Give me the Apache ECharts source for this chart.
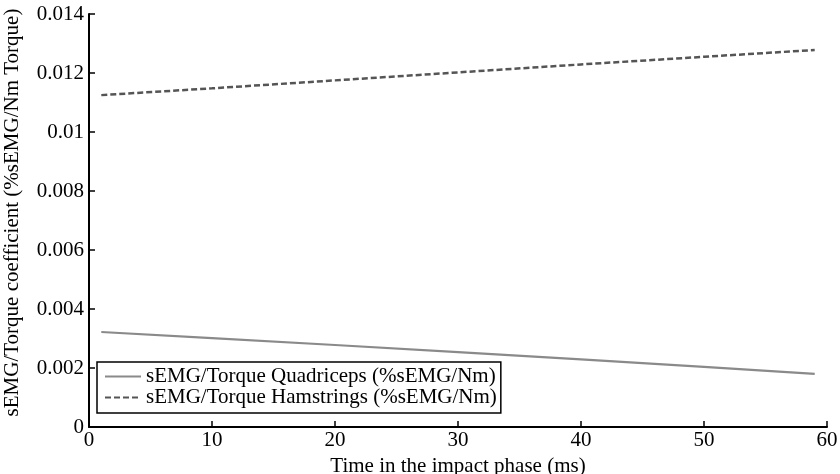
<!DOCTYPE html>
<html>
<head>
<meta charset="utf-8">
<title>sEMG/Torque coefficient</title>
<script src="https://cdn.jsdelivr.net/npm/echarts@6/dist/echarts.min.js"></script>
<style>
  html, body { margin: 0; padding: 0; background: #fff; }
  #chart { width: 840px; height: 474px; }
</style>
</head>
<body>
<div id="chart"></div>
<script>
// Time samples within the impact phase (ms)
const timeMs = [1, 10, 20, 30, 40, 50, 59];
// sEMG/Torque coefficients (%sEMG/Nm)
const quadriceps = [0.00322, 0.00301, 0.00278, 0.00254, 0.00229, 0.00204, 0.00180];
const hamstrings = [0.01125, 0.01148, 0.01175, 0.01202, 0.01229, 0.01255, 0.01278];
// Axis ticks
const xTicks = [0, 10, 20, 30, 40, 50, 60];
const yTicks = [0, 0.002, 0.004, 0.006, 0.008, 0.01, 0.012, 0.014];
const seriesNames = ['sEMG/Torque Quadriceps (%sEMG/Nm)', 'sEMG/Torque Hamstrings (%sEMG/Nm)'];

const font = 'Liberation Serif';
const fs = 21;
const pair = (xs, ys) => xs.map((x, i) => [x, ys[i]]);

const axisCommon = {
  axisLine: { lineStyle: { color: '#000', width: 2 } },
  axisTick: { inside: true, length: 6, lineStyle: { color: '#000', width: 1.5 } },
  splitLine: { show: false },
  axisLabel: { color: '#000', fontFamily: font, fontSize: fs },
  nameTextStyle: { color: '#000', fontFamily: font, fontSize: fs }
};

const chart = echarts.init(document.getElementById('chart'), null, { renderer: 'canvas' });
chart.setOption({
  backgroundColor: '#fff',
  animation: false,
  grid: { left: 89, right: 13, top: 14, bottom: 47, containLabel: false, outerBoundsMode: 'none' },
  xAxis: Object.assign({}, axisCommon, {
    type: 'value',
    min: xTicks[0],
    max: xTicks[xTicks.length - 1],
    interval: xTicks[1] - xTicks[0],
    name: 'Time in the impact phase (ms)',
    nameLocation: 'middle',
    nameGap: 25,
    axisLabel: Object.assign({}, axisCommon.axisLabel, { margin: 3 })
  }),
  yAxis: Object.assign({}, axisCommon, {
    type: 'value',
    min: yTicks[0],
    max: yTicks[yTicks.length - 1],
    interval: 0.002,
    name: 'sEMG/Torque coefficient (%sEMG/Nm Torque)',
    nameLocation: 'middle',
    nameGap: 66,
    nameTextStyle: Object.assign({}, axisCommon.nameTextStyle, { padding: [0, 0, 0, 16] }),
    axisLabel: Object.assign({}, axisCommon.axisLabel, { margin: 5 })
  }),
  legend: {
    orient: 'vertical',
    left: 97,
    top: 362,
    padding: [4, 4, 5, 7],
    itemGap: 0,
    itemWidth: 36,
    itemHeight: 20,
    borderColor: '#000',
    borderWidth: 1.5,
    backgroundColor: '#fff',
    itemStyle: { opacity: 0, borderWidth: 0 },
    textStyle: { color: '#000', fontFamily: font, fontSize: fs, lineHeight: 20 },
    data: seriesNames
  },
  series: [
    {
      name: seriesNames[0],
      type: 'line',
      data: pair(timeMs, quadriceps),
      symbol: 'none',
      lineStyle: { color: '#8a8a8a', width: 2.2, type: 'solid' },
      itemStyle: { color: '#8a8a8a' }
    },
    {
      name: seriesNames[1],
      type: 'line',
      data: pair(timeMs, hamstrings),
      symbol: 'none',
      lineStyle: { color: '#555', width: 2.5, type: [6, 3] },
      itemStyle: { color: '#555' }
    }
  ]
});
</script>
</body>
</html>
